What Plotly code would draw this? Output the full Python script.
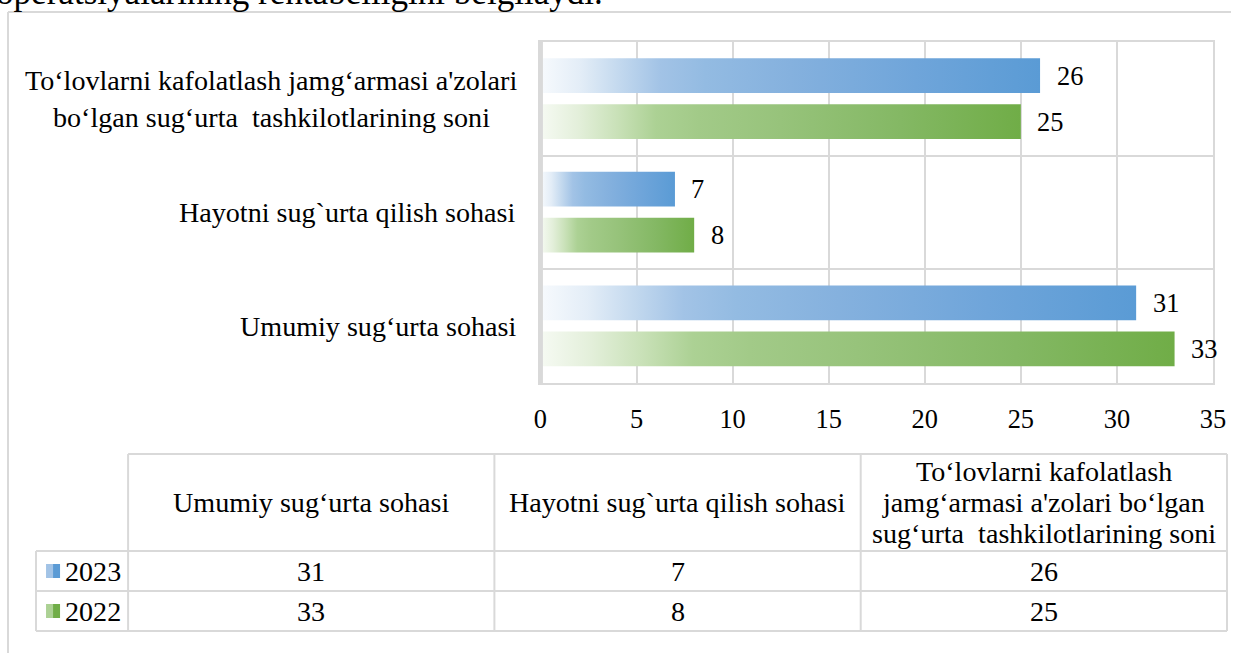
import plotly.graph_objects as go

# ---------------- data ----------------
categories = ["Umumiy sug‘urta sohasi",
              "Hayotni sug`urta qilish sohasi",
              "To‘lovlarni kafolatlash jamg‘armasi a'zolari<br>bo‘lgan sug‘urta  tashkilotlarining soni"]
table_headers = ["Umumiy sug‘urta sohasi",
                 "Hayotni sug`urta qilish sohasi",
                 "To‘lovlarni kafolatlash<br>jamg‘armasi a'zolari bo‘lgan<br>sug‘urta  tashkilotlarining soni"]
series_names = ["2023", "2022"]
values_2023 = [31, 7, 26]
values_2022 = [33, 8, 25]
x_ticks = [0, 5, 10, 15, 20, 25, 30, 35]
top_text = "operatsiyalarining rentabelligini belgilaydi."

# ---------------- styling ----------------
W, H = 1244, 653
FONT = "Liberation Serif, Times New Roman, serif"
GRID = "#d9d9d9"
XS = 0.9831          # horizontal scale observed in the rendered page
XO = 7.0             # horizontal offset observed in the rendered page
LBL = 28.1
NUM = 26.4
blue_scale = [[0, "#f7fafd"], [0.08, "#e3edf7"], [0.16, "#c2d8ee"], [0.24, "#a2c3e6"],
              [0.33, "#93bbe2"], [0.5, "#85b1de"], [0.75, "#6fa5da"], [1, "#5a9bd5"]]
green_scale = [[0, "#f6faf3"], [0.08, "#e3efda"], [0.16, "#c9e1b8"], [0.24, "#acd194"],
               [0.33, "#a2ca88"], [0.5, "#97c37b"], [0.75, "#84b864"], [1, "#70ad47"]]
series = [(series_names[0], values_2023, blue_scale, 0.205, "#5b9bd5"),
          (series_names[1], values_2022, green_scale, -0.2, "#70ad47")]
HALF = 0.153


def px(x):
    """target picture x (pixels) -> paper fraction"""
    return ((x - XO) / XS) / W


def py(y):
    return 1 - y / H


fig = go.Figure()
annotations = []

for name, vals, scale, off, solid in series:
    for ci, v in enumerate(vals):
        y0, y1 = ci + off - HALF, ci + off + HALF
        fig.add_trace(go.Scatter(
            x=[0, v, v, 0, 0], y=[y0, y0, y1, y1, y0],
            mode="lines", fill="toself",
            line=dict(width=0, color="rgba(0,0,0,0)"),
            fillgradient=dict(type="horizontal", colorscale=scale),
            name=name, showlegend=False, hoverinfo="skip"))
        annotations.append(dict(x=v, y=ci + off, xref="x", yref="y", text=str(v),
                                showarrow=False, xanchor="left", yanchor="middle",
                                xshift=14.5, font=dict(size=NUM, color="black", family=FONT)))

for ci, cat in enumerate(categories):
    lines = cat.split("<br>")
    if len(lines) == 1:
        annotations.append(dict(x=px(518), y=ci, xref="paper", yref="y", text=cat,
                                showarrow=False, xanchor="right", yanchor="middle",
                                font=dict(size=LBL, color="black", family=FONT)))
    else:
        n = len(lines)
        for li, ln in enumerate(lines):
            annotations.append(dict(x=px(271), y=ci, xref="paper", yref="y", text=ln,
                                    showarrow=False, xanchor="center", yanchor="middle",
                                    yshift=(n - 1) / 2 * 37 - li * 37,
                                    font=dict(size=LBL, color="black", family=FONT)))

shapes = []


def hline(x0, x1, y, w=2):
    shapes.append(dict(type="line", xref="paper", yref="paper", x0=px(x0), x1=min(px(x1), 1),
                       y0=py(y), y1=py(y), line=dict(color=GRID, width=w)))


def vline(x, y0, y1, w=2):
    shapes.append(dict(type="line", xref="paper", yref="paper", x0=px(x), x1=px(x),
                       y0=py(y0), y1=py(y1), line=dict(color=GRID, width=w)))


# outer frame
vline(8, 12, 653)
hline(8, 1244, 12)
# thick left axis line of the plot area
vline(541, 42, 383, w=3)

# data table
col_x = [128, 494, 860, 1226]
hline(128, 1226, 454)
for yy in [551, 591, 631]:
    hline(36, 1226, yy)
vline(36, 551, 631)
for xx in col_x:
    vline(xx, 454, 631)

col_centers = [(col_x[i] + col_x[i + 1]) / 2 for i in range(3)]
for i, hdr in enumerate(table_headers):
    lines = hdr.split("<br>")
    n = len(lines)
    for li, ln in enumerate(lines):
        annotations.append(dict(x=px(col_centers[i]), y=py(502.5 - (n - 1) / 2 * 30.5 + li * 30.5),
                                xref="paper", yref="paper",
                                text=ln, showarrow=False, xanchor="center", yanchor="middle",
                                font=dict(size=LBL, color="black", family=FONT)))

row_y = [571, 611]
for ri, (name, vals, scale, off, solid) in enumerate(series):
    yc = row_y[ri]
    for i, v in enumerate(vals):
        annotations.append(dict(x=px(col_centers[i]), y=py(yc), xref="paper", yref="paper",
                                text=str(v), showarrow=False, xanchor="center", yanchor="middle",
                                font=dict(size=LBL, color="black", family=FONT)))
    shapes.append(dict(type="rect", xref="paper", yref="paper", x0=px(46), x1=px(53),
                       y0=py(yc + 7), y1=py(yc - 7), line=dict(width=0),
                       fillcolor=scale[3][1]))
    shapes.append(dict(type="rect", xref="paper", yref="paper", x0=px(53), x1=px(60),
                       y0=py(yc + 7), y1=py(yc - 7), line=dict(width=0),
                       fillcolor=solid))
    annotations.append(dict(x=px(63), y=py(yc), xref="paper", yref="paper", text=name,
                            showarrow=False, xanchor="left", yanchor="middle",
                            font=dict(size=LBL, color="black", family=FONT)))

# cut-off text at the top (only its lower part shows)
annotations.append(dict(x=px(-5), y=py(12.5), xref="paper", yref="paper", text=top_text,
                        showarrow=False, xanchor="left", yanchor="bottom", borderpad=0,
                        font=dict(size=35.1, color="black", family=FONT)))

fig.update_layout(
    width=W, height=H, margin=dict(l=0, r=0, t=0, b=0),
    paper_bgcolor="white", plot_bgcolor="white",
    font=dict(family=FONT, color="black"),
    showlegend=False,
    xaxis=dict(domain=[px(540), px(1212)], range=[0, 35], tickvals=x_ticks,
               showgrid=True, gridcolor=GRID, gridwidth=2, zeroline=False,
               showline=True, linecolor=GRID, linewidth=2, mirror=True,
               ticks="", ticklabelstandoff=11,
               tickfont=dict(size=NUM, color="black", family=FONT), fixedrange=True),
    yaxis=dict(domain=[py(383), py(42)], range=[-0.5, 2.5], tickvals=[0.5, 1.5],
               showticklabels=False, showgrid=True, gridcolor=GRID, gridwidth=2,
               zeroline=False, showline=True, linecolor=GRID, linewidth=2, mirror=True,
               ticks="", fixedrange=True),
    shapes=shapes, annotations=annotations,
)

fig.write_html("out.html", config={"displayModeBar": False},
               post_script="document.body.style.margin='0';document.body.style.overflow='hidden';")
